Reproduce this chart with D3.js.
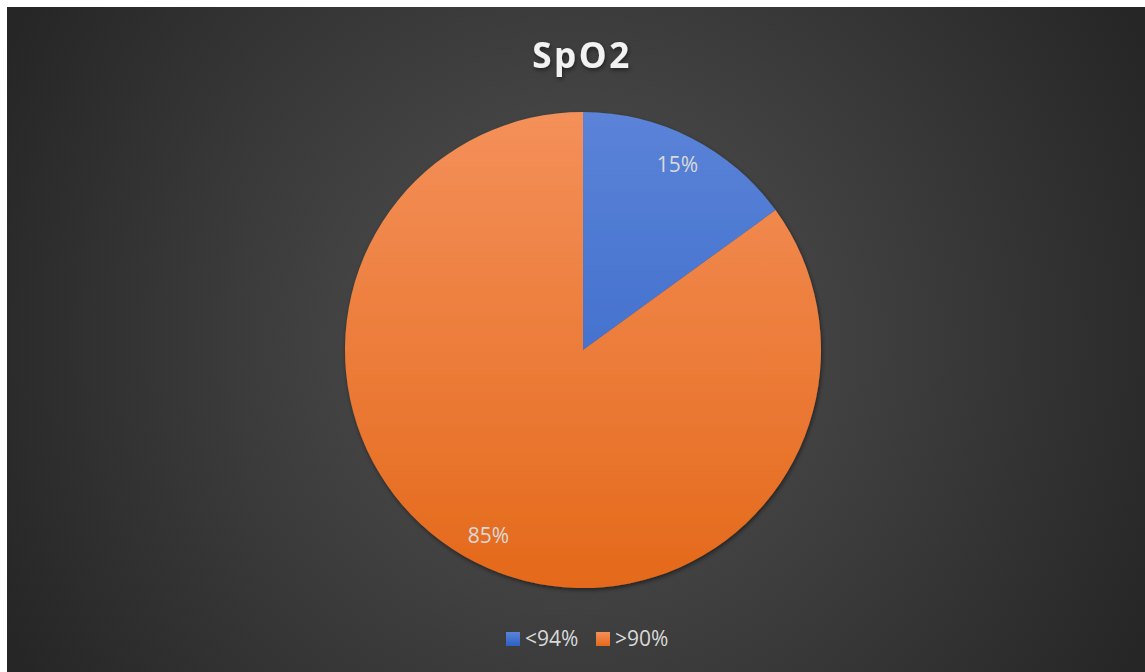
<!DOCTYPE html>
<html>
<head>
<meta charset="utf-8">
<script src="https://cdn.jsdelivr.net/npm/d3@7"></script>
<style>
  html, body { margin: 0; padding: 0; background: #fff; }
  svg { display: block; }
</style>
</head>
<body>
<svg width="1145" height="672"></svg>
<script>
var title = "SpO2";
var categories = ["<94%", ">90%"];
var values = [15, 85];
var labels = ["15%", "85%"];

var svg = d3.select("svg"),
    width = +svg.attr("width"),
    height = +svg.attr("height");

var cx = 583, cy = 350, r = 238;

var defs = svg.append("defs");

var bg = defs.append("radialGradient")
    .attr("id", "bg")
    .attr("gradientUnits", "userSpaceOnUse")
    .attr("cx", 576).attr("cy", 340).attr("r", 640);
bg.append("stop").attr("offset", "0%").attr("stop-color", "#535353");
bg.append("stop").attr("offset", "100%").attr("stop-color", "#262626");

var colors = [["#5b83d8", "#2d61c4"], ["#f4905a", "#e4691a"]];
colors.forEach(function(c, i) {
  // slice gradients, in the local coordinates of the pie group
  var g = defs.append("linearGradient")
      .attr("id", "slice" + i)
      .attr("gradientUnits", "userSpaceOnUse")
      .attr("x1", 0).attr("y1", -r).attr("x2", 0).attr("y2", r);
  g.append("stop").attr("offset", "0%").attr("stop-color", c[0]);
  g.append("stop").attr("offset", "100%").attr("stop-color", c[1]);

  var lg = defs.append("linearGradient").attr("id", "leg" + i)
      .attr("x1", 0).attr("y1", 0).attr("x2", 0).attr("y2", 1);
  lg.append("stop").attr("offset", "0%").attr("stop-color", c[0]);
  lg.append("stop").attr("offset", "100%").attr("stop-color", c[1]);
});

var shadow = defs.append("filter").attr("id", "shadow")
    .attr("x", "-10%").attr("y", "-10%").attr("width", "120%").attr("height", "120%");
shadow.append("feDropShadow").attr("dx", 1).attr("dy", 2).attr("stdDeviation", 2)
    .attr("flood-color", "#000").attr("flood-opacity", 0.5);

svg.append("rect")
    .attr("x", 7).attr("y", 7)
    .attr("width", width - 7).attr("height", height - 7)
    .attr("fill", "url(#bg)");

svg.append("text")
    .attr("x", 582).attr("y", 68)
    .attr("text-anchor", "middle")
    .attr("font-family", "Open Sans, sans-serif")
    .attr("font-weight", "bold")
    .attr("font-size", 35)
    .attr("letter-spacing", 2.5)
    .attr("fill", "#f2f2f2")
    .attr("filter", "url(#shadow)")
    .text(title);

var pie = d3.pie().sort(null).value(function(d) { return d; });
var arcs = pie(values);
var arc = d3.arc().innerRadius(0).outerRadius(r);
var labelArc = d3.arc().innerRadius(r * 0.875).outerRadius(r * 0.875);

var g = svg.append("g").attr("transform", "translate(" + cx + "," + cy + ")");

g.append("g").attr("filter", "url(#shadow)")
  .selectAll("path")
  .data(arcs)
  .enter().append("path")
    .attr("d", arc)
    .attr("fill", function(d, i) { return "url(#slice" + i + ")"; });

g.selectAll(".lbl")
  .data(arcs)
  .enter().append("text")
    .attr("class", "lbl")
    .attr("transform", function(d) { return "translate(" + labelArc.centroid(d) + ")"; })
    .attr("text-anchor", "middle")
    .attr("dy", "0.35em")
    .attr("font-family", "Open Sans, sans-serif")
    .attr("font-size", 21)
    .attr("fill", "#d9d9d9")
    .text(function(d, i) { return labels[i]; });

var legend = svg.append("g").attr("transform", "translate(506,632)");
var xs = [0, 90];
var item = legend.selectAll("g")
  .data(categories)
  .enter().append("g")
    .attr("transform", function(d, i) { return "translate(" + xs[i] + ",0)"; });
item.append("rect")
    .attr("width", 14).attr("height", 14)
    .attr("fill", function(d, i) { return "url(#leg" + i + ")"; });
item.append("text")
    .attr("x", 19).attr("y", 7)
    .attr("dy", "0.35em")
    .attr("font-family", "Open Sans, sans-serif")
    .attr("font-size", 21)
    .attr("fill", "#d9d9d9")
    .text(function(d) { return d; });
</script>
</body>
</html>
